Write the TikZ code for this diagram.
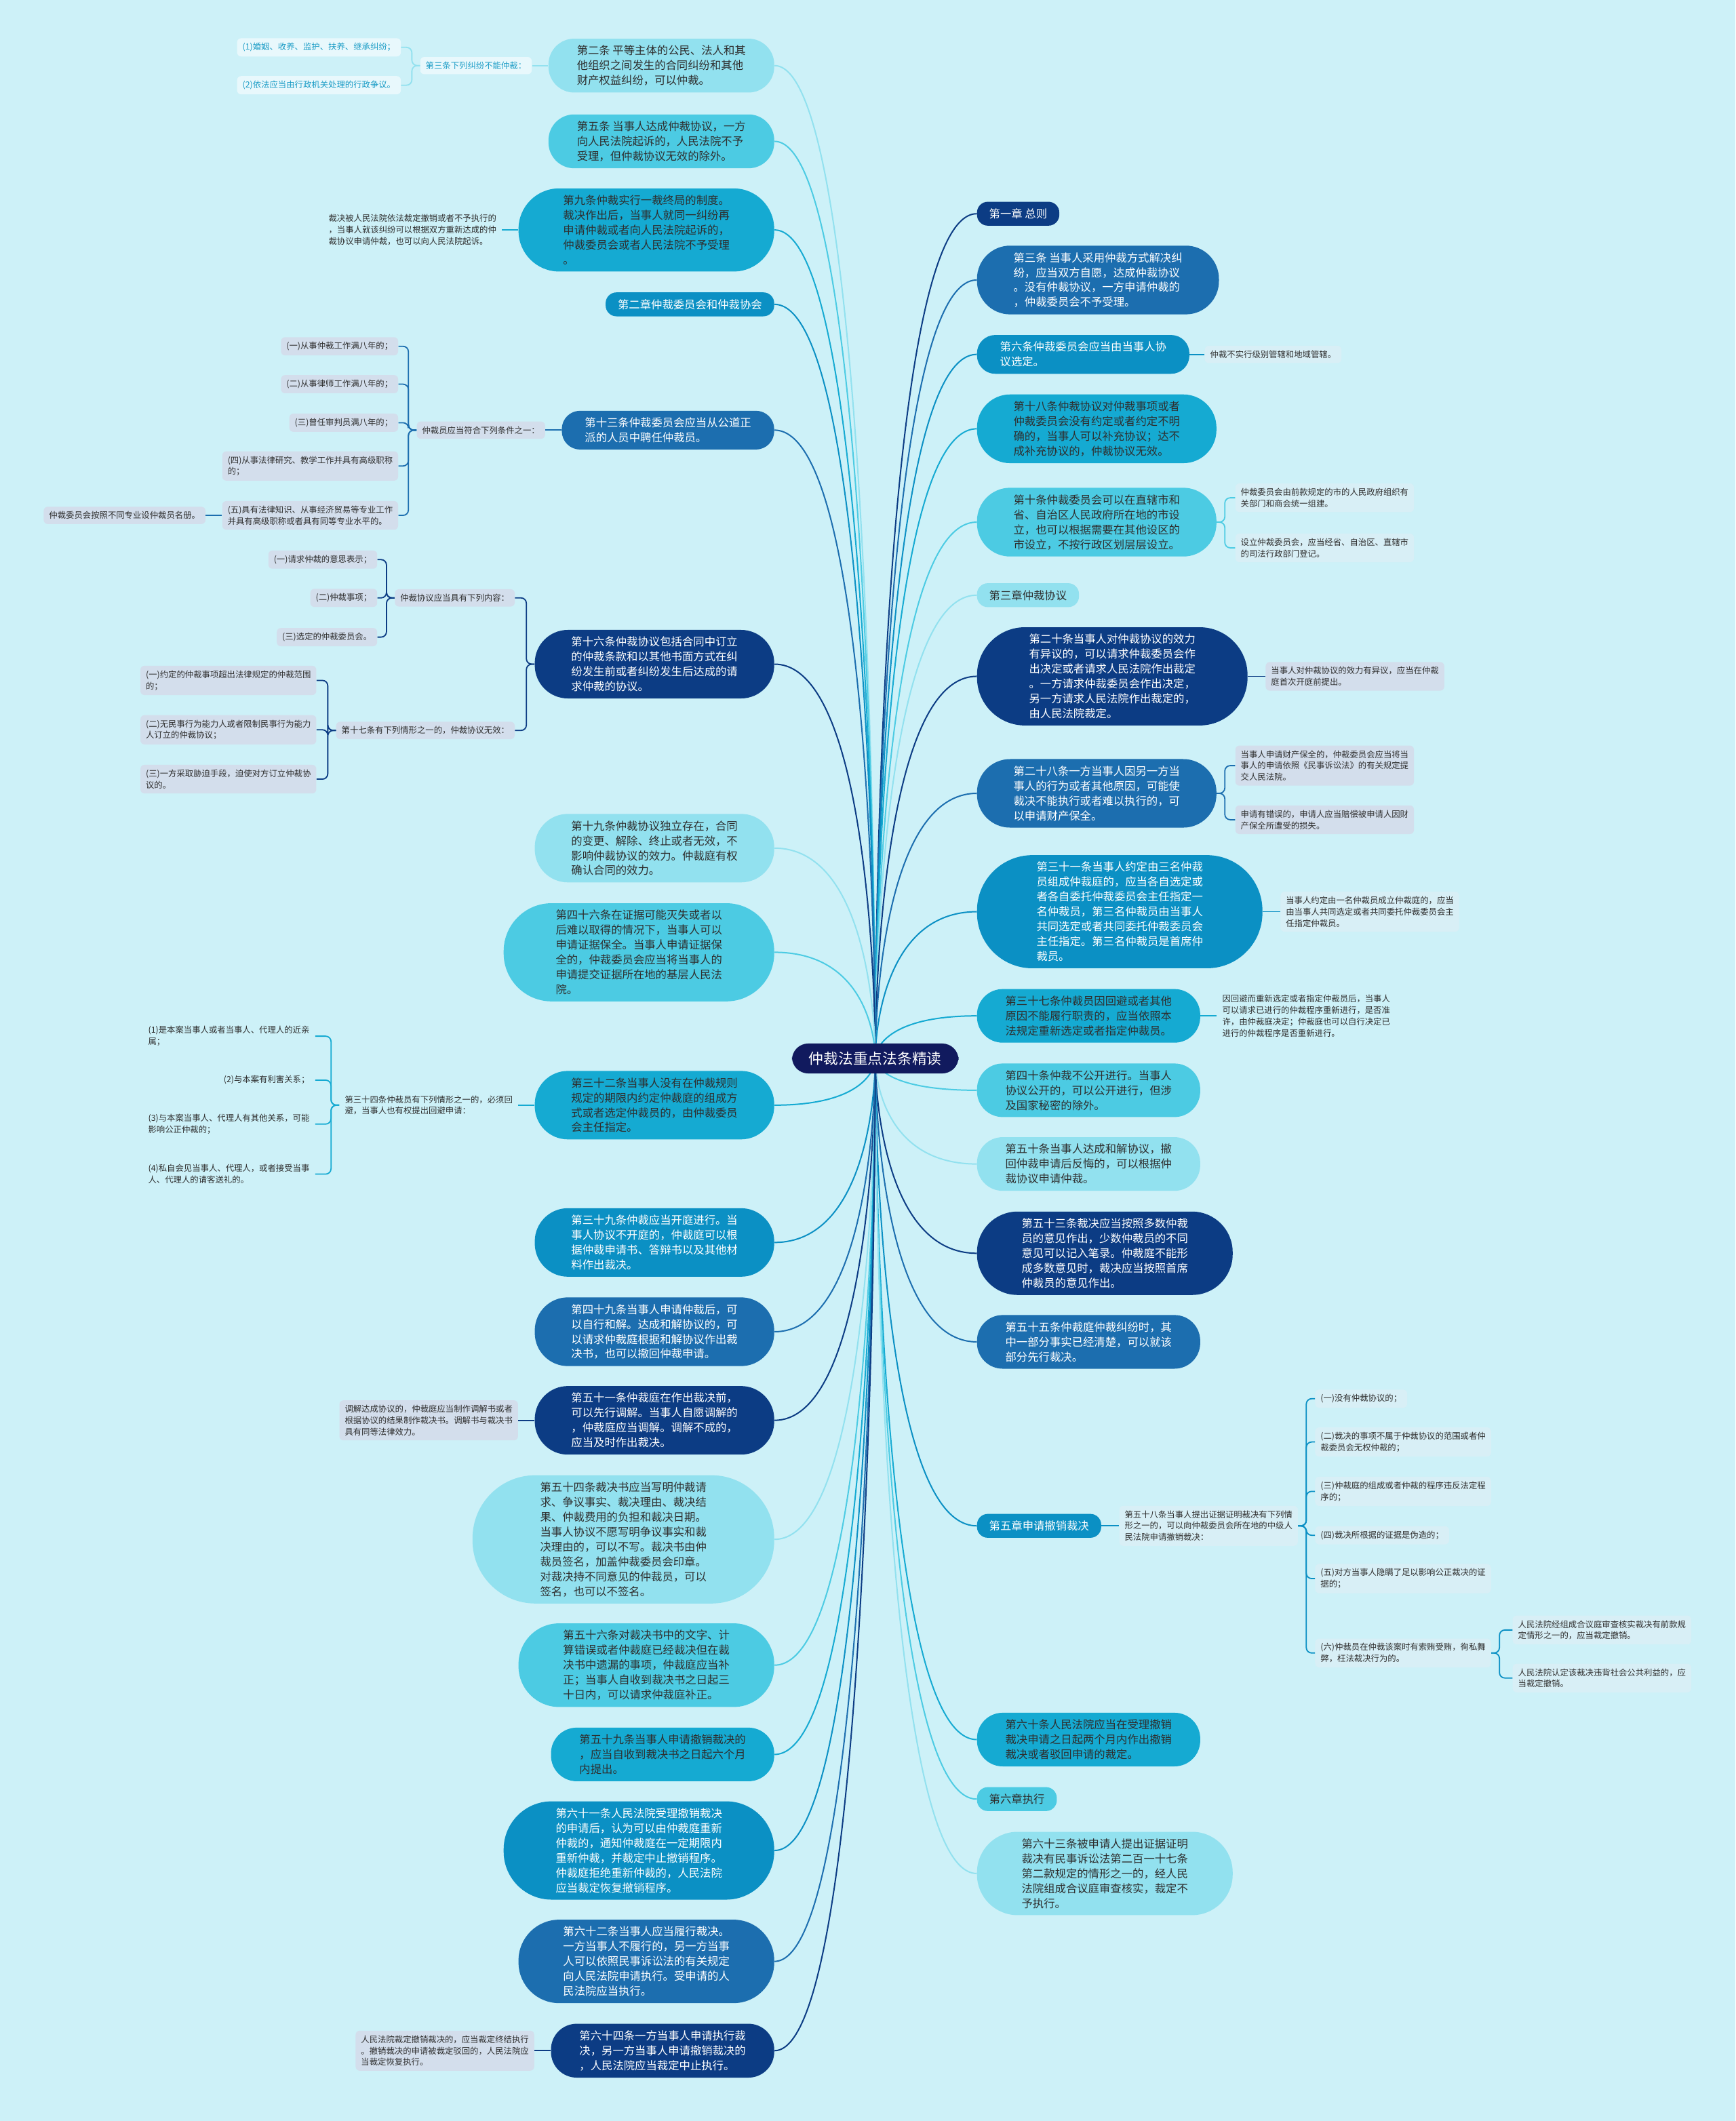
\documentclass[tikz,border=0pt]{standalone}
\usepackage{fontspec}
\setmainfont{Noto Sans CJK SC}
\usetikzlibrary{positioning, calc, backgrounds}

\definecolor{bgc}{HTML}{CDF1F8}
\definecolor{hubc}{HTML}{111A5E}
\definecolor{cA}{HTML}{0C3C84}
\definecolor{cB}{HTML}{1C6EAF}
\definecolor{cC}{HTML}{0B90C4}
\definecolor{cD}{HTML}{15AAD2}
\definecolor{cE}{HTML}{4CCBE3}
\definecolor{cF}{HTML}{92E1EF}
\definecolor{ink}{HTML}{2E2E2E}
\definecolor{tealink}{HTML}{1A9CC6}
\definecolor{leafg}{HTML}{D3DEEC}
\definecolor{leafp}{HTML}{D8EFF6}
\definecolor{leafw}{HTML}{E8F8FC}

\tikzset{
  hub/.style={fill=hubc, text=white, inner xsep=12.5pt, inner ysep=6pt, rounded corners=12pt,
    font=\fontsize{10.9}{13}\selectfont},
  art/.style={fill=#1, text=white, inner ysep=5pt,
    align=left, font=\fontsize{8.2}{11}\selectfont},
  artd/.style={art=#1, text=ink},
  % 按行数给出两端的圆弧
  n1/.style={inner xsep=9pt, rounded corners=8pt},
  n2/.style={inner xsep=17pt, rounded corners=13.5pt},
  n3/.style={inner xsep=21pt, rounded corners=19pt},
  n4/.style={inner xsep=27pt, rounded corners=24.5pt},
  n5/.style={inner xsep=33pt, rounded corners=30pt},
  n6/.style={inner xsep=38.5pt, rounded corners=35.5pt},
  n7/.style={inner xsep=44pt, rounded corners=41pt},
  n8/.style={inner xsep=50pt, rounded corners=46.5pt},
  note/.style={fill=#1, rounded corners=3pt, inner xsep=4pt, inner ysep=3.5pt,
    align=left, text=ink, font=\fontsize{6.2}{8.4}\selectfont},
  link/.style={draw=#1, line width=1pt},
  tie/.style={draw=#1, line width=0.9pt, rounded corners=4pt}
}

\begin{document}
\begin{tikzpicture}[x=1pt, y=-1pt]
  \useasboundingbox (0,0) rectangle (1283,1568);

  % 中心主题
  \node [hub] (hub) at (647,782.5) {仲裁法重点法条精读};

  % --- 右侧分支 ---
  \node [art=cA, n1, anchor=west] (r1) at (722,158) {第一章 总则};
  \node [art=cB, n4, anchor=west] (r2) at (722,207) {第三条 当事人采用仲裁方式解决纠\\纷，应当双方自愿，达成仲裁协议\\。没有仲裁协议，一方申请仲裁的\\，仲裁委员会不予受理。};
  \node [art=cC, n2, anchor=west] (r3) at (722,262) {第六条仲裁委员会应当由当事人协\\议选定。};
  \node [artd=cD, n4, anchor=west] (r4) at (722,317) {第十八条仲裁协议对仲裁事项或者\\仲裁委员会没有约定或者约定不明\\确的，当事人可以补充协议；达不\\成补充协议的，仲裁协议无效。};
  \node [artd=cE, n4, anchor=west] (r5) at (722,386) {第十条仲裁委员会可以在直辖市和\\省、自治区人民政府所在地的市设\\立，也可以根据需要在其他设区的\\市设立，不按行政区划层层设立。};
  \node [artd=cF, n1, anchor=west] (r6) at (722,440) {第三章仲裁协议};
  \node [art=cA, n6, anchor=west] (r7) at (722,500) {第二十条当事人对仲裁协议的效力\\有异议的，可以请求仲裁委员会作\\出决定或者请求人民法院作出裁定\\。一方请求仲裁委员会作出决定，\\另一方请求人民法院作出裁定的，\\由人民法院裁定。};
  \node [art=cB, n4, anchor=west] (r8) at (722,586.5) {第二十八条一方当事人因另一方当\\事人的行为或者其他原因，可能使\\裁决不能执行或者难以执行的，可\\以申请财产保全。};
  \node [art=cC, n7, anchor=west] (r9) at (722,674) {第三十一条当事人约定由三名仲裁\\员组成仲裁庭的，应当各自选定或\\者各自委托仲裁委员会主任指定一\\名仲裁员，第三名仲裁员由当事人\\共同选定或者共同委托仲裁委员会\\主任指定。第三名仲裁员是首席仲\\裁员。};
  \node [artd=cD, n3, anchor=west] (r10) at (722,751) {第三十七条仲裁员因回避或者其他\\原因不能履行职责的，应当依照本\\法规定重新选定或者指定仲裁员。};
  \node [artd=cE, n3, anchor=west] (r11) at (722,806) {第四十条仲裁不公开进行。当事人\\协议公开的，可以公开进行，但涉\\及国家秘密的除外。};
  \node [artd=cF, n3, anchor=west] (r12) at (722,860.5) {第五十条当事人达成和解协议，撤\\回仲裁申请后反悔的，可以根据仲\\裁协议申请仲裁。};
  \node [art=cA, n5, anchor=west] (r13) at (722,926.5) {第五十三条裁决应当按照多数仲裁\\员的意见作出，少数仲裁员的不同\\意见可以记入笔录。仲裁庭不能形\\成多数意见时，裁决应当按照首席\\仲裁员的意见作出。};
  \node [art=cB, n3, anchor=west] (r14) at (722,992) {第五十五条仲裁庭仲裁纠纷时，其\\中一部分事实已经清楚，可以就该\\部分先行裁决。};
  \node [art=cC, n1, anchor=west] (r15) at (722,1128) {第五章申请撤销裁决};
  \node [artd=cD, n3, anchor=west] (r16) at (722,1286) {第六十条人民法院应当在受理撤销\\裁决申请之日起两个月内作出撤销\\裁决或者驳回申请的裁定。};
  \node [artd=cE, n1, anchor=west] (r17) at (722,1330) {第六章执行};
  \node [artd=cF, n5, anchor=west] (r18) at (722,1385) {第六十三条被申请人提出证据证明\\裁决有民事诉讼法第二百一十七条\\第二款规定的情形之一的，经人民\\法院组成合议庭审查核实，裁定不\\予执行。};

  % --- 左侧分支 ---
  \node [artd=cF, n3, anchor=east] (l1) at (572.5,48.5) {第二条 平等主体的公民、法人和其\\他组织之间发生的合同纠纷和其他\\财产权益纠纷，可以仲裁。};
  \node [artd=cE, n3, anchor=east] (l2) at (572.5,104.5) {第五条 当事人达成仲裁协议，一方\\向人民法院起诉的，人民法院不予\\受理，但仲裁协议无效的除外。};
  \node [artd=cD, n5, anchor=east] (l3) at (572.5,170) {第九条仲裁实行一裁终局的制度。\\裁决作出后，当事人就同一纠纷再\\申请仲裁或者向人民法院起诉的，\\仲裁委员会或者人民法院不予受理\\。};
  \node [art=cC, n1, anchor=east] (l4) at (572.5,225) {第二章仲裁委员会和仲裁协会};
  \node [art=cB, n2, anchor=east] (l5) at (572.5,318) {第十三条仲裁委员会应当从公道正\\派的人员中聘任仲裁员。};
  \node [art=cA, n4, anchor=east] (l6) at (572.5,491) {第十六条仲裁协议包括合同中订立\\的仲裁条款和以其他书面方式在纠\\纷发生前或者纠纷发生后达成的请\\求仲裁的协议。};
  \node [artd=cF, n4, anchor=east] (l7) at (572.5,627) {第十九条仲裁协议独立存在，合同\\的变更、解除、终止或者无效，不\\影响仲裁协议的效力。仲裁庭有权\\确认合同的效力。};
  \node [artd=cE, n6, anchor=east] (l8) at (572.5,704) {第四十六条在证据可能灭失或者以\\后难以取得的情况下，当事人可以\\申请证据保全。当事人申请证据保\\全的，仲裁委员会应当将当事人的\\申请提交证据所在地的基层人民法\\院。};
  \node [artd=cD, n4, anchor=east] (l9) at (572.5,817) {第三十二条当事人没有在仲裁规则\\规定的期限内约定仲裁庭的组成方\\式或者选定仲裁员的，由仲裁委员\\会主任指定。};
  \node [art=cC, n4, anchor=east] (l10) at (572.5,918.5) {第三十九条仲裁应当开庭进行。当\\事人协议不开庭的，仲裁庭可以根\\据仲裁申请书、答辩书以及其他材\\料作出裁决。};
  \node [art=cB, n4, anchor=east] (l11) at (572.5,984.5) {第四十九条当事人申请仲裁后，可\\以自行和解。达成和解协议的，可\\以请求仲裁庭根据和解协议作出裁\\决书，也可以撤回仲裁申请。};
  \node [art=cA, n4, anchor=east] (l12) at (572.5,1050) {第五十一条仲裁庭在作出裁决前，\\可以先行调解。当事人自愿调解的\\，仲裁庭应当调解。调解不成的，\\应当及时作出裁决。};
  \node [artd=cF, n8, anchor=east] (l13) at (572.5,1138) {第五十四条裁决书应当写明仲裁请\\求、争议事实、裁决理由、裁决结\\果、仲裁费用的负担和裁决日期。\\当事人协议不愿写明争议事实和裁\\决理由的，可以不写。裁决书由仲\\裁员签名，加盖仲裁委员会印章。\\对裁决持不同意见的仲裁员，可以\\签名，也可以不签名。};
  \node [artd=cE, n5, anchor=east] (l14) at (572.5,1231) {第五十六条对裁决书中的文字、计\\算错误或者仲裁庭已经裁决但在裁\\决书中遗漏的事项，仲裁庭应当补\\正；当事人自收到裁决书之日起三\\十日内，可以请求仲裁庭补正。};
  \node [artd=cD, n3, anchor=east] (l15) at (572.5,1297) {第五十九条当事人申请撤销裁决的\\，应当自收到裁决书之日起六个月\\内提出。};
  \node [art=cC, n6, anchor=east] (l16) at (572.5,1368) {第六十一条人民法院受理撤销裁决\\的申请后，认为可以由仲裁庭重新\\仲裁的，通知仲裁庭在一定期限内\\重新仲裁，并裁定中止撤销程序。\\仲裁庭拒绝重新仲裁的，人民法院\\应当裁定恢复撤销程序。};
  \node [art=cB, n5, anchor=east] (l17) at (572.5,1450) {第六十二条当事人应当履行裁决。\\一方当事人不履行的，另一方当事\\人可以依照民事诉讼法的有关规定\\向人民法院申请执行。受申请的人\\民法院应当执行。};
  \node [art=cA, n3, anchor=east] (l18) at (572.5,1516) {第六十四条一方当事人申请执行裁\\决，另一方当事人申请撤销裁决的\\，人民法院应当裁定中止执行。};

  % --- 右侧子节点 ---
  \node [note=leafp, right=11pt of r3] (r3a) {仲裁不实行级别管辖和地域管辖。};
  \node [note=leafp, anchor=west] (r5a) at (913,368) {仲裁委员会由前款规定的市的人民政府组织有\\关部门和商会统一组建。};
  \node [note=leafp, anchor=west] (r5b) at (913,405) {设立仲裁委员会，应当经省、自治区、直辖市\\的司法行政部门登记。};
  \node [note=leafg, right=13pt of r7] (r7a) {当事人对仲裁协议的效力有异议，应当在仲裁\\庭首次开庭前提出。};
  \node [note=leafg, anchor=west] (r8a) at (913,566) {当事人申请财产保全的，仲裁委员会应当将当\\事人的申请依照《民事诉讼法》的有关规定提\\交人民法院。};
  \node [note=leafg, anchor=west] (r8b) at (913,606) {申请有错误的，申请人应当赔偿被申请人因财\\产保全所遭受的损失。};
  \node [note=leafp, right=13pt of r9] (r9a) {当事人约定由一名仲裁员成立仲裁庭的，应当\\由当事人共同选定或者共同委托仲裁委员会主\\任指定仲裁员。};
  \node [note=none, right=12pt of r10] (r10a) {因回避而重新选定或者指定仲裁员后，当事人\\可以请求已进行的仲裁程序重新进行，是否准\\许，由仲裁庭决定；仲裁庭也可以自行决定已\\进行的仲裁程序是否重新进行。};
  \node [note=leafp, right=13pt of r15] (r15a) {第五十八条当事人提出证据证明裁决有下列情\\形之一的，可以向仲裁委员会所在地的中级人\\民法院申请撤销裁决：};
  \node [note=leafp, anchor=west] (r15a1) at (972,1034) {(一)没有仲裁协议的；};
  \node [note=leafp, anchor=west] (r15a2) at (972,1066) {(二)裁决的事项不属于仲裁协议的范围或者仲\\裁委员会无权仲裁的；};
  \node [note=leafp, anchor=west] (r15a3) at (972,1102.5) {(三)仲裁庭的组成或者仲裁的程序违反法定程\\序的；};
  \node [note=leafp, anchor=west] (r15a4) at (972,1135) {(四)裁决所根据的证据是伪造的；};
  \node [note=leafp, anchor=west] (r15a5) at (972,1167) {(五)对方当事人隐瞒了足以影响公正裁决的证\\据的；};
  \node [note=leafp, anchor=west] (r15a6) at (972,1222) {(六)仲裁员在仲裁该案时有索贿受贿，徇私舞\\弊，枉法裁决行为的。};
  \node [note=leafp, anchor=west] (r15a6a) at (1118,1205) {人民法院经组成合议庭审查核实裁决有前款规\\定情形之一的，应当裁定撤销。};
  \node [note=leafp, anchor=west] (r15a6b) at (1118,1240.5) {人民法院认定该裁决违背社会公共利益的，应\\当裁定撤销。};

  % --- 左侧子节点 ---
  \node [note=leafw, text=tealink, left=12pt of l1] (l1a) {第三条下列纠纷不能仲裁：};
  \node [note=leafw, text=tealink, anchor=east] (l1a1) at (296.5,35) {(1)婚姻、收养、监护、扶养、继承纠纷；};
  \node [note=leafw, text=tealink, anchor=east] (l1a2) at (296.5,63) {(2)依法应当由行政机关处理的行政争议。};
  \node [note=none, left=12pt of l3] (l3a) {裁决被人民法院依法裁定撤销或者不予执行的\\，当事人就该纠纷可以根据双方重新达成的仲\\裁协议申请仲裁，也可以向人民法院起诉。};
  \node [note=leafg, left=12pt of l5] (l5a) {仲裁员应当符合下列条件之一：};
  \node [note=leafg, anchor=east] (l5a1) at (294.5,256) {(一)从事仲裁工作满八年的；};
  \node [note=leafg, anchor=east] (l5a2) at (294.5,284) {(二)从事律师工作满八年的；};
  \node [note=leafg, anchor=east] (l5a3) at (294.5,312.5) {(三)曾任审判员满八年的；};
  \node [note=leafg, anchor=east] (l5a4) at (294.5,344.5) {(四)从事法律研究、教学工作并具有高级职称\\的；};
  \node [note=leafg, anchor=east] (l5a5) at (294.5,381) {(五)具有法律知识、从事经济贸易等专业工作\\并具有高级职称或者具有同等专业水平的。};
  \node [note=leafg, left=12pt of l5a5] (l5a5a) {仲裁委员会按照不同专业设仲裁员名册。};
  \node [note=leafg, anchor=east] (l6a) at (380.7,442) {仲裁协议应当具有下列内容：};
  \node [note=leafg, anchor=east] (l6a1) at (279,413.7) {(一)请求仲裁的意思表示；};
  \node [note=leafg, anchor=east] (l6a2) at (279,442) {(二)仲裁事项；};
  \node [note=leafg, anchor=east] (l6a3) at (279,471) {(三)选定的仲裁委员会。};
  \node [note=leafg, anchor=east] (l6b) at (380.7,540) {第十七条有下列情形之一的，仲裁协议无效：};
  \node [note=leafg, anchor=east] (l6b1) at (234,503) {(一)约定的仲裁事项超出法律规定的仲裁范围\\的；};
  \node [note=leafg, anchor=east] (l6b2) at (234,539.5) {(二)无民事行为能力人或者限制民事行为能力\\人订立的仲裁协议；};
  \node [note=leafg, anchor=east] (l6b3) at (234,576) {(三)一方采取胁迫手段，迫使对方订立仲裁协\\议的。};
  \node [note=none, left=12pt of l9] (l9a) {第三十四条仲裁员有下列情形之一的，必须回\\避，当事人也有权提出回避申请：};
  \node [note=none, anchor=east] (l9a1) at (233,766) {(1)是本案当事人或者当事人、代理人的近亲\\属；};
  \node [note=none, anchor=east] (l9a2) at (233,798.5) {(2)与本案有利害关系；};
  \node [note=none, anchor=east] (l9a3) at (233,831) {(3)与本案当事人、代理人有其他关系，可能\\影响公正仲裁的；};
  \node [note=none, anchor=east] (l9a4) at (233,868) {(4)私自会见当事人、代理人，或者接受当事\\人、代理人的请客送礼的。};
  \node [note=leafg, left=12pt of l12] (l12a) {调解达成协议的，仲裁庭应当制作调解书或者\\根据协议的结果制作裁决书。调解书与裁决书\\具有同等法律效力。};
  \node [note=leafg, left=12pt of l18] (l18a) {人民法院裁定撤销裁决的，应当裁定终结执行\\。撤销裁决的申请被裁定驳回的，人民法院应\\当裁定恢复执行。};

  % --- 子节点连线 ---
  \draw [tie=cC] (r3.east) -- (r3a.west);
  \foreach \c in {r5a,r5b} \draw [tie=cE] (r5.east) -- ++(6,0) |- (\c.west);
  \draw [tie=cA] (r7.east) -- (r7a.west);
  \foreach \c in {r8a,r8b} \draw [tie=cB] (r8.east) -- ++(6,0) |- (\c.west);
  \draw [tie=cC] (r9.east) -- (r9a.west);
  \draw [tie=cD] (r10.east) -- (r10a.west);
  \draw [tie=cC] (r15.east) -- (r15a.west);
  \foreach \c in {r15a1,r15a2,r15a3,r15a4,r15a5,r15a6} \draw [tie=cC] (r15a.east) -- ++(6,0) |- (\c.west);
  \foreach \c in {r15a6a,r15a6b} \draw [tie=cC] (r15a6.east) -- ++(6,0) |- (\c.west);

  \draw [tie=cF] (l1.west) -- (l1a.east);
  \foreach \c in {l1a1,l1a2} \draw [tie=cF] (l1a.west) -- ++(-6,0) |- (\c.east);
  \draw [tie=cD] (l3.west) -- (l3a.east);
  \draw [tie=cB] (l5.west) -- (l5a.east);
  \foreach \c in {l5a1,l5a2,l5a3,l5a4,l5a5} \draw [tie=cB] (l5a.west) -- ++(-6,0) |- (\c.east);
  \draw [tie=cB] (l5a5.west) -- (l5a5a.east);
  \foreach \c in {l6a,l6b} \draw [tie=cA] (l6.west) -- ++(-6,0) |- (\c.east);
  \foreach \c in {l6a1,l6a2,l6a3} \draw [tie=cA] (l6a.west) -- ++(-6,0) |- (\c.east);
  \foreach \c in {l6b1,l6b2,l6b3} \draw [tie=cA] (l6b.west) -- ++(-6,0) |- (\c.east);
  \draw [tie=cD] (l9.west) -- (l9a.east);
  \foreach \c in {l9a1,l9a2,l9a3,l9a4} \draw [tie=cD] (l9a.west) -- ++(-6,0) |- (\c.east);
  \draw [tie=cA] (l12.west) -- (l12a.east);
  \draw [tie=cA] (l18.west) -- (l18a.east);

  % --- 背景与主干连线 ---
  \begin{scope}[on background layer]
    \fill [bgc] (0,0) rectangle (1283,1568);
    \foreach \n/\c in {r1/cA,r2/cB,r3/cC,r4/cD,r5/cE,r6/cF,r7/cA,r8/cB,r9/cC,r10/cD,r11/cE,r12/cF,r13/cA,r14/cB,r15/cC,r16/cD,r17/cE,r18/cF}
      \draw [link=\c] (hub.center) .. controls ($(hub.center)!0.2!(hub.center |- \n.west)$) and ($(hub.center |- \n.west)!0.1!(\n.west)$) .. (\n.west);
    \foreach \n/\c in {l1/cF,l2/cE,l3/cD,l4/cC,l5/cB,l6/cA,l7/cF,l8/cE,l9/cD,l10/cC,l11/cB,l12/cA,l13/cF,l14/cE,l15/cD,l16/cC,l17/cB,l18/cA}
      \draw [link=\c] (hub.center) .. controls ($(hub.center)!0.2!(hub.center |- \n.east)$) and ($(hub.center |- \n.east)!0.1!(\n.east)$) .. (\n.east);
  \end{scope}

\end{tikzpicture}
\end{document}
